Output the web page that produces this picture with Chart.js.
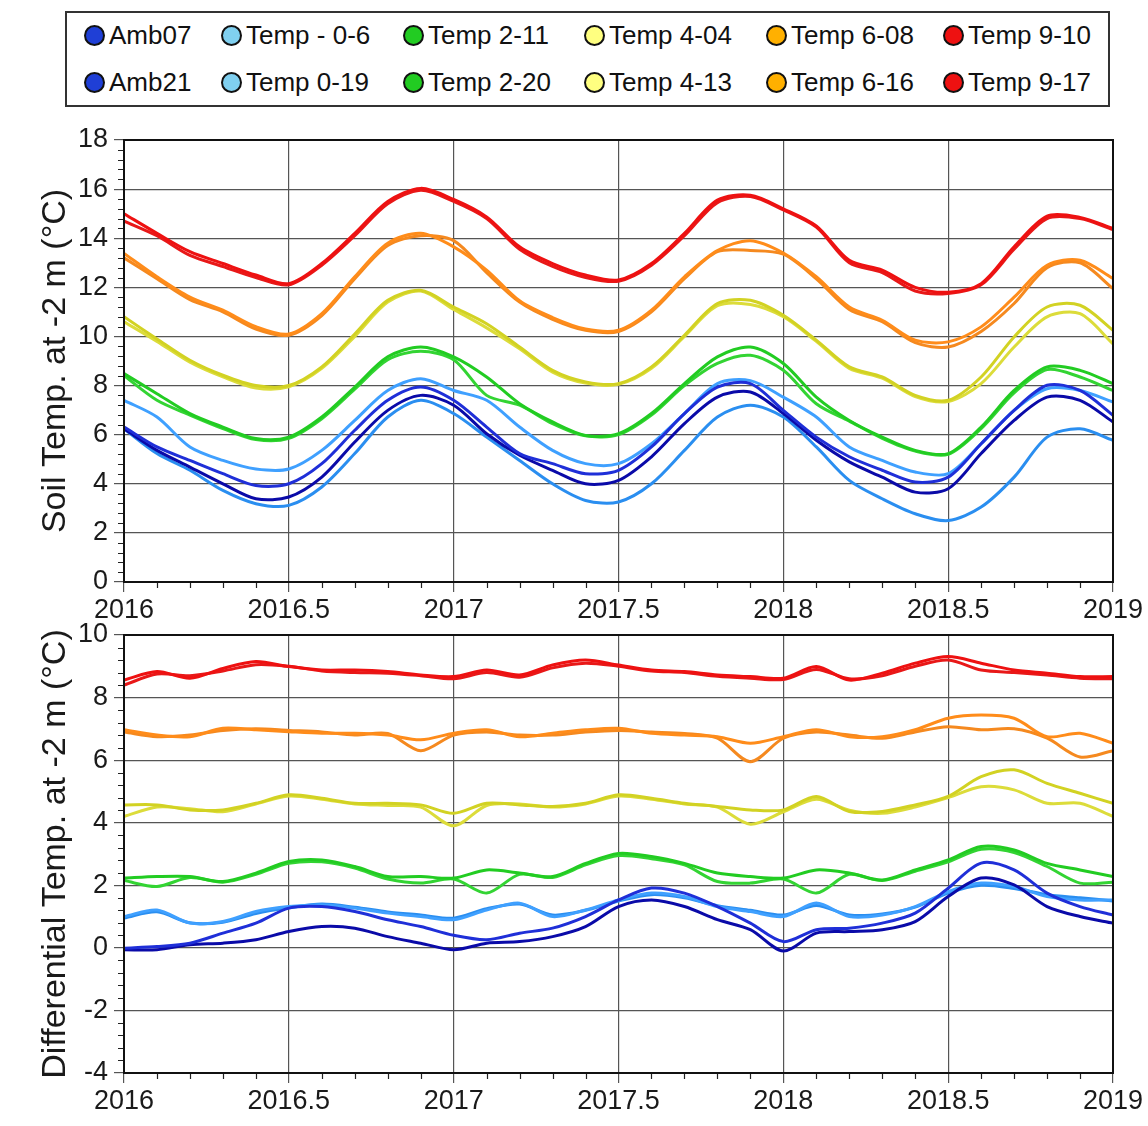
<!DOCTYPE html>
<html lang="en">
<head>
  <meta charset="UTF-8" />
  <title>Soil temperature at -2 m</title>
  <style>
    body {
      margin: 0;
      width: 1148px;
      height: 1126px;
      background: #fff;
      font-family: 'Liberation Sans', Arial, sans-serif;
      position: relative;
      overflow: hidden;
    }
    .legend {
      position: absolute;
      left: 65px;
      top: 11px;
      width: 1041px;
      height: 92px;
      border: 2px solid #333;
    }
    .item {
      position: absolute;
      font-size: 26px;
      color: #111;
      white-space: nowrap;
      line-height: 26px;
    }
    .dot {
      display: inline-block;
      width: 17px;
      height: 17px;
      border-radius: 50%;
      border: 2px solid #111;
      vertical-align: -2px;
      margin-right: 4px;
    }
    .wrap {
      position: absolute;
      left: 0;
    }
  </style>
</head>
<body>
  <div class="legend" id="legend"></div>
  <div class="wrap" style="top:112px"><canvas id="soilChart" width="1148" height="520"></canvas></div>
  <div class="wrap" style="top:612px"><canvas id="diffChart" width="1148" height="514"></canvas></div>

  <script src="https://cdn.jsdelivr.net/npm/chart.js"></script>
  <script>
    // time axis, every 0.1 year
    const years = [2016.0, 2016.1, 2016.2, 2016.3, 2016.4, 2016.5, 2016.6, 2016.7, 2016.8, 2016.9,
                   2017.0, 2017.1, 2017.2, 2017.3, 2017.4, 2017.5, 2017.6, 2017.7, 2017.8, 2017.9,
                   2018.0, 2018.1, 2018.2, 2018.3, 2018.4, 2018.5, 2018.6, 2018.7, 2018.8, 2018.9,
                   2019.0];

    const seriesNames = ['Amb07', 'Amb21', 'Temp - 0-6', 'Temp 0-19', 'Temp 2-11', 'Temp 2-20',
                         'Temp 4-04', 'Temp 4-13', 'Temp 6-08', 'Temp 6-16', 'Temp 9-10', 'Temp 9-17'];
    const lineColors = ['#1f2fd8', '#0a0aa8', '#3fa0ff', '#2a8ef0', '#22cc22', '#33d433',
                        '#d2d223', '#dcdc3a', '#ff8c1a', '#f5891f', '#ee1111', '#e81818'];
    const legendColors = ['#1f3fd6', '#1f3fd6', '#80d0f0', '#80d0f0', '#22cc22', '#22cc22',
                          '#ffff80', '#ffff80', '#ffb000', '#ffb000', '#ee1111', '#ee1111'];

    // soil temperature at -2 m (°C)
    const soilAmb07 = [6.31, 5.5, 4.95, 4.41, 3.93, 4.0, 4.82, 6.18, 7.4, 7.94, 7.4, 6.31, 5.23, 4.82, 4.41, 4.55, 5.5, 6.86, 7.94, 8.08, 6.99, 5.9, 5.1, 4.55, 4.07, 4.27, 5.63, 6.99, 8.01, 7.8, 6.79];
    const soilAmb21 = [6.24, 5.36, 4.68, 4.0, 3.39, 3.46, 4.27, 5.7, 6.99, 7.6, 7.2, 6.04, 5.16, 4.55, 4.0, 4.14, 5.1, 6.45, 7.53, 7.74, 6.86, 5.77, 4.89, 4.27, 3.66, 3.8, 5.23, 6.58, 7.53, 7.4, 6.52];
    const soilT0_6 = [7.4, 6.72, 5.5, 4.95, 4.6, 4.6, 5.36, 6.58, 7.8, 8.28, 7.8, 7.4, 6.31, 5.36, 4.82, 4.82, 5.63, 6.86, 8.08, 8.2, 7.53, 6.72, 5.5, 4.95, 4.48, 4.41, 5.63, 6.99, 7.87, 7.8, 7.33];
    const soilT0_19 = [6.24, 5.23, 4.55, 3.73, 3.19, 3.12, 3.87, 5.23, 6.72, 7.4, 6.86, 5.9, 4.95, 4.0, 3.32, 3.26, 4.0, 5.36, 6.72, 7.2, 6.72, 5.5, 4.14, 3.39, 2.78, 2.5, 3.05, 4.27, 5.9, 6.24, 5.77];
    const soilT2_11 = [8.49, 7.67, 6.86, 6.31, 5.84, 5.9, 6.72, 7.94, 9.17, 9.57, 9.17, 8.35, 7.26, 6.52, 5.97, 6.04, 6.86, 8.08, 9.17, 9.57, 8.9, 7.53, 6.58, 5.9, 5.36, 5.23, 6.31, 7.8, 8.76, 8.62, 8.08];
    const soilT2_20 = [8.4, 7.4, 6.8, 6.25, 5.8, 5.85, 6.65, 7.85, 9.05, 9.4, 9.05, 7.6, 7.2, 6.45, 5.95, 6.0, 6.8, 8.0, 8.9, 9.23, 8.62, 7.26, 6.55, 5.85, 5.33, 5.2, 6.25, 7.7, 8.65, 8.35, 7.8];
    const soilT4_04 = [10.8, 9.9, 9.03, 8.42, 8.0, 8.0, 8.76, 10.1, 11.47, 11.88, 11.2, 10.52, 9.57, 8.62, 8.15, 8.08, 8.76, 10.05, 11.34, 11.47, 10.86, 9.85, 8.76, 8.35, 7.6, 7.4, 8.35, 9.98, 11.2, 11.27, 10.25];
    const soilT4_13 = [10.6, 9.8, 8.95, 8.35, 7.9, 7.95, 8.7, 10.0, 11.4, 11.85, 11.1, 10.35, 9.5, 8.55, 8.1, 8.05, 8.7, 10.0, 11.25, 11.3, 10.8, 9.8, 8.7, 8.3, 7.55, 7.35, 8.08, 9.57, 10.8, 10.93, 9.7];
    const soilT6_08 = [13.38, 12.43, 11.6, 11.07, 10.4, 10.1, 10.93, 12.43, 13.8, 14.2, 13.65, 12.7, 11.45, 10.77, 10.3, 10.25, 11.07, 12.43, 13.5, 13.9, 13.4, 12.43, 11.2, 10.66, 9.85, 9.78, 10.39, 11.6, 12.9, 13.1, 12.36];
    const soilT6_16 = [13.2, 12.35, 11.5, 11.0, 10.3, 10.05, 10.85, 12.35, 13.7, 14.1, 13.9, 12.6, 11.4, 10.7, 10.25, 10.2, 11.0, 12.35, 13.45, 13.5, 13.35, 12.35, 11.1, 10.6, 9.75, 9.57, 10.2, 11.34, 12.8, 13.0, 11.95];
    const soilT9_10 = [15.0, 14.2, 13.45, 12.97, 12.5, 12.15, 12.97, 14.2, 15.5, 16.03, 15.58, 14.87, 13.65, 12.97, 12.5, 12.3, 12.97, 14.2, 15.55, 15.75, 15.2, 14.5, 13.1, 12.7, 12.0, 11.8, 12.15, 13.65, 14.9, 14.85, 14.4];
    const soilT9_17 = [14.7, 14.1, 13.3, 12.85, 12.4, 12.1, 12.9, 14.1, 15.4, 15.95, 15.5, 14.8, 13.55, 12.85, 12.4, 12.25, 12.9, 14.1, 15.45, 15.7, 15.15, 14.45, 13.0, 12.6, 11.85, 11.75, 12.1, 13.55, 14.8, 14.8, 14.35];

    // differential temperature at -2 m (°C)
    const diffAmb07 = [-0.01, 0.04, 0.15, 0.47, 0.79, 1.27, 1.32, 1.16, 0.9, 0.68, 0.4, 0.26, 0.47, 0.63, 1.0, 1.53, 1.91, 1.75, 1.32, 0.79, 0.2, 0.58, 0.63, 0.79, 1.11, 1.91, 2.71, 2.49, 1.75, 1.32, 1.05];
    const diffAmb21 = [-0.06, -0.06, 0.1, 0.15, 0.26, 0.52, 0.68, 0.63, 0.36, 0.15, -0.06, 0.15, 0.2, 0.36, 0.68, 1.32, 1.53, 1.32, 0.9, 0.58, -0.1, 0.47, 0.52, 0.58, 0.84, 1.64, 2.23, 2.01, 1.32, 1.0, 0.79];
    const diffT0_6 = [1.0, 1.21, 0.79, 0.84, 1.16, 1.32, 1.37, 1.27, 1.11, 1.0, 0.9, 1.21, 1.43, 1.0, 1.21, 1.53, 1.75, 1.64, 1.32, 1.16, 1.0, 1.43, 1.0, 1.05, 1.32, 1.8, 2.07, 1.96, 1.64, 1.53, 1.53];
    const diffT0_19 = [0.95, 1.15, 0.8, 0.82, 1.1, 1.28, 1.4, 1.3, 1.15, 1.05, 0.95, 1.25, 1.4, 1.05, 1.2, 1.5, 1.7, 1.6, 1.35, 1.2, 1.05, 1.35, 1.05, 1.08, 1.3, 1.75, 2.0, 1.9, 1.7, 1.6, 1.5];
    const diffT2_11 = [2.23, 2.28, 2.28, 2.12, 2.39, 2.76, 2.81, 2.6, 2.28, 2.28, 2.23, 2.49, 2.39, 2.28, 2.7, 3.02, 2.92, 2.7, 2.39, 2.28, 2.23, 2.49, 2.39, 2.17, 2.49, 2.81, 3.24, 3.13, 2.7, 2.49, 2.28];
    const diffT2_20 = [2.15, 1.96, 2.25, 2.1, 2.35, 2.7, 2.75, 2.55, 2.2, 2.07, 2.2, 1.75, 2.35, 2.25, 2.65, 2.95, 2.85, 2.65, 2.12, 2.07, 2.2, 1.75, 2.35, 2.15, 2.45, 2.75, 3.15, 3.05, 2.6, 2.07, 2.1];
    const diffT4_04 = [4.57, 4.57, 4.41, 4.41, 4.62, 4.89, 4.78, 4.62, 4.62, 4.57, 4.3, 4.62, 4.57, 4.52, 4.62, 4.89, 4.78, 4.62, 4.52, 4.41, 4.41, 4.84, 4.36, 4.36, 4.57, 4.84, 5.47, 5.69, 5.26, 4.94, 4.62];
    const diffT4_13 = [4.2, 4.5, 4.45, 4.35, 4.6, 4.85, 4.75, 4.6, 4.55, 4.5, 3.9, 4.55, 4.6, 4.5, 4.6, 4.85, 4.75, 4.6, 4.5, 3.95, 4.35, 4.75, 4.4, 4.3, 4.5, 4.8, 5.15, 5.05, 4.62, 4.62, 4.2];
    const diffT6_08 = [6.97, 6.8, 6.75, 7.02, 6.97, 6.91, 6.86, 6.86, 6.8, 6.65, 6.86, 6.97, 6.75, 6.86, 6.97, 7.02, 6.86, 6.8, 6.75, 6.54, 6.75, 6.97, 6.75, 6.75, 6.97, 7.34, 7.44, 7.34, 6.75, 6.86, 6.54];
    const diffT6_16 = [6.9, 6.75, 6.8, 6.95, 7.0, 6.95, 6.9, 6.8, 6.85, 6.3, 6.8, 6.9, 6.8, 6.8, 6.9, 6.95, 6.9, 6.85, 6.7, 5.95, 6.7, 6.9, 6.8, 6.7, 6.9, 7.07, 6.97, 7.0, 6.7, 6.1, 6.3];
    const diffT9_10 = [8.56, 8.83, 8.62, 8.93, 9.15, 8.99, 8.88, 8.88, 8.83, 8.72, 8.67, 8.88, 8.72, 9.04, 9.2, 9.04, 8.88, 8.83, 8.72, 8.67, 8.62, 8.99, 8.56, 8.78, 9.1, 9.31, 9.1, 8.88, 8.78, 8.67, 8.67];
    const diffT9_17 = [8.4, 8.75, 8.7, 8.85, 9.05, 9.0, 8.85, 8.8, 8.78, 8.7, 8.6, 8.8, 8.65, 8.95, 9.1, 9.0, 8.85, 8.8, 8.68, 8.62, 8.58, 8.9, 8.6, 8.7, 9.0, 9.2, 8.88, 8.8, 8.72, 8.62, 8.6];

    const soilSeries = [soilAmb07, soilAmb21, soilT0_6, soilT0_19, soilT2_11, soilT2_20,
                        soilT4_04, soilT4_13, soilT6_08, soilT6_16, soilT9_10, soilT9_17];
    const diffSeries = [diffAmb07, diffAmb21, diffT0_6, diffT0_19, diffT2_11, diffT2_20,
                        diffT4_04, diffT4_13, diffT6_08, diffT6_16, diffT9_10, diffT9_17];

    // html legend: two rows, six columns
    const legendCols = [17, 154, 336, 517, 699, 876];
    const legendEl = document.getElementById('legend');
    seriesNames.forEach((name, i) => {
      const col = Math.floor(i / 2), row = i % 2;
      const el = document.createElement('div');
      el.className = 'item';
      el.style.left = legendCols[col] + 'px';
      el.style.top = (row === 0 ? 9 : 56) + 'px';
      el.innerHTML = '<span class="dot" style="background:' + legendColors[i] + '"></span>' + name;
      legendEl.appendChild(el);
    });

    Chart.defaults.font.family = "'Liberation Sans', Arial, sans-serif";
    Chart.defaults.color = '#1a1a1a';

    // box around plot + minor ticks (0.1 yr, 0.4 °C)
    const frameAndMinor = {
      id: 'frameAndMinor',
      afterDraw(chart) {
        const { ctx, chartArea: a } = chart;
        const x = chart.scales.x, y = chart.scales.y;
        ctx.save();
        ctx.strokeStyle = '#222';
        ctx.lineWidth = 1.2;
        ctx.beginPath();
        for (let i = 1; i < 30; i++) {
          if (i % 5 === 0) continue;
          const px = Math.round(x.getPixelForValue(2016 + i / 10)) + 0.5;
          ctx.moveTo(px, a.bottom);
          ctx.lineTo(px, a.bottom + 6);
        }
        const n = Math.round((y.max - y.min) / 0.4);
        for (let k = 1; k < n; k++) {
          if (k % 5 === 0) continue;
          const py = Math.round(y.getPixelForValue(y.min + k * 0.4)) + 0.5;
          ctx.moveTo(a.left, py);
          ctx.lineTo(a.left - 6, py);
        }
        ctx.stroke();
        ctx.lineWidth = 2;
        ctx.strokeStyle = '#111';
        ctx.strokeRect(a.left, a.top, a.width, a.height);
        ctx.restore();
      }
    };

    function makeChart(id, series, yMin, yMax, title, padTop, xHeight) {
      return new Chart(document.getElementById(id), {
        type: 'line',
        data: {
          datasets: series.map((vals, i) => ({
            label: seriesNames[i],
            data: years.map((t, j) => ({ x: t, y: vals[j] })),
            borderColor: lineColors[i],
            borderWidth: 3,
            pointRadius: 0,
            tension: 0.3,
            fill: false
          }))
        },
        options: {
          responsive: false,
          animation: false,
          layout: { padding: { top: padTop, right: 35, left: 0, bottom: 0 } },
          plugins: { legend: { display: false }, tooltip: { enabled: false } },
          scales: {
            x: {
              type: 'linear',
              min: 2016,
              max: 2019,
              ticks: {
                stepSize: 0.5,
                font: { size: 27 },
                padding: 2,
                maxRotation: 0,
                callback: v => String(v)
              },
              grid: { color: '#555', lineWidth: 1.2, tickLength: 10 },
              border: { color: '#111', width: 2 },
              afterFit: s => { s.height = xHeight; }
            },
            y: {
              min: yMin,
              max: yMax,
              ticks: { stepSize: 2, font: { size: 27 }, padding: 6 },
              grid: { color: '#555', lineWidth: 1.2, tickLength: 10 },
              border: { color: '#111', width: 2 },
              title: {
                display: true,
                text: title,
                font: { size: 34 },
                color: '#1a1a1a',
                padding: { top: 35, bottom: 0 }
              },
              afterFit: s => { s.width = 124; }
            }
          }
        },
        plugins: [frameAndMinor]
      });
    }

    makeChart('soilChart', soilSeries, 0, 18, 'Soil Temp. at -2 m (°C)', 28, 50);
    makeChart('diffChart', diffSeries, -4, 10, 'Differential Temp. at -2 m (°C)', 23, 53);
  </script>
</body>
</html>
